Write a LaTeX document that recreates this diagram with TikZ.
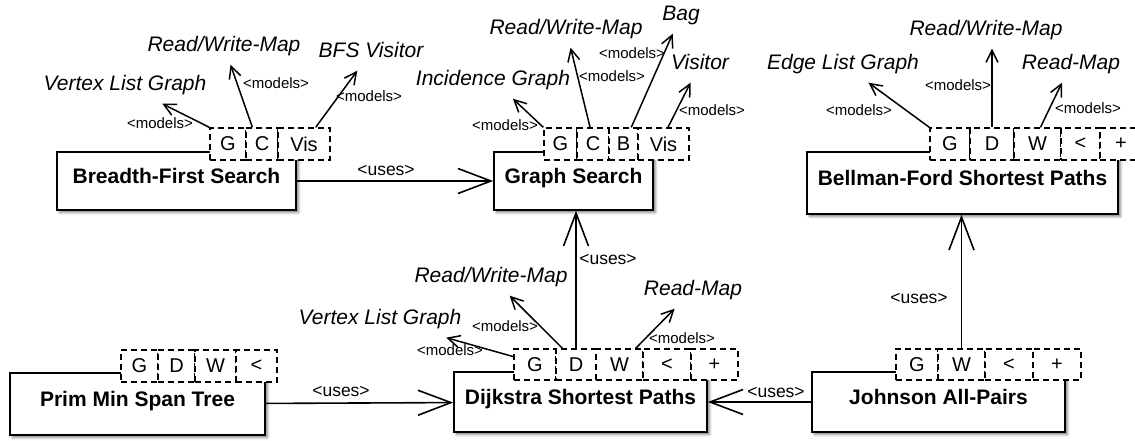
\documentclass[tikz,border=0pt]{standalone}
\usepackage{fontspec}
\setmainfont{Liberation Sans}
\usetikzlibrary{positioning,arrows.meta,shadows.blur}

\begin{document}
\begin{tikzpicture}[x=1pt,y=-1pt,
    algo/.style={draw, line width=1.6pt, fill=white, inner sep=0pt,
      text height=15pt, text depth=10pt,
      font=\fontsize{21}{25}\selectfont\bfseries,
      blur shadow={shadow xshift=2.5pt, shadow yshift=-2.5pt, shadow blur radius=2.5pt, shadow opacity=50}},
    param/.style={draw, line width=1.3pt, dash pattern=on 6pt off 4pt, fill=white,
      inner sep=0pt, minimum height=32pt, font=\fontsize{20}{24}\selectfont},
    concept/.style={inner xsep=4pt, inner ysep=9pt, text height=15pt, text depth=4pt,
      font=\fontsize{21}{25}\selectfont\itshape},
    models/.style={line width=1.5pt, -{Straight Barb[length=12pt,width=12pt]}},
    uses/.style={line width=1.6pt, -{Straight Barb[length=33pt,width=25pt]}},
    modlabel/.style={inner sep=0pt, font=\fontsize{15}{17}\selectfont},
    uselabel/.style={inner sep=0pt, font=\fontsize{17.5}{20}\selectfont}]
\clip (0,0) rectangle (1135,441);

% algorithms
\node[algo, minimum width=239pt, minimum height=58pt] (bfs)  at (176.5,181) {Breadth-First Search};
\node[algo, minimum width=159pt, minimum height=58pt] (gs)   at (573.5,181) {Graph Search};
\node[algo, minimum width=311pt, minimum height=62pt] (bf)   at (962.5,183) {Bellman-Ford Shortest Paths};
\node[algo, minimum width=255pt, minimum height=62pt] (prim) at (137.5,404) {Prim Min Span Tree};
\node[algo, minimum width=253pt, minimum height=60pt] (dij)  at (580.5,402) {Dijkstra Shortest Paths};
\node[algo, minimum width=253pt, minimum height=60pt] (john) at (938.5,402) {Johnson All-Pairs};

% template parameters
\node[param, minimum width=36pt] (bfsG)   at (228,144) {G};
\node[param, minimum width=32pt] (bfsC)   at (262,144) {C};
\node[param, minimum width=52pt] (bfsVis) at (304,144) {Vis};

\node[param, minimum width=33pt] (gsG)   at (560.5,144) {G};
\node[param, minimum width=32pt] (gsC)   at (593,144) {C};
\node[param, minimum width=29pt] (gsB)   at (623.5,144) {B};
\node[param, minimum width=51pt] (gsVis) at (663.5,144) {Vis};

\node[param, minimum width=40pt] (bfG)    at (950,144) {G};
\node[param, minimum width=44pt] (bfD)    at (992,144) {D};
\node[param, minimum width=47pt] (bfW)    at (1037.5,144) {W};
\node[param, minimum width=39pt] (bfLess) at (1080.5,144) {<};
\node[param, minimum width=42pt] (bfPlus) at (1121,144) {+};

\node[param, minimum width=37pt] (primG)    at (139.5,366) {G};
\node[param, minimum width=37pt] (primD)    at (176.5,366) {D};
\node[param, minimum width=41pt] (primW)    at (215.5,366) {W};
\node[param, minimum width=41pt] (primLess) at (256.5,366) {<};

\node[param, minimum width=42pt, minimum height=31pt] (dijG)    at (535,364.5) {G};
\node[param, minimum width=40pt, minimum height=31pt] (dijD)    at (576,364.5) {D};
\node[param, minimum width=47pt, minimum height=31pt] (dijW)    at (619.5,364.5) {W};
\node[param, minimum width=48pt, minimum height=31pt] (dijLess) at (667,364.5) {<};
\node[param, minimum width=47pt, minimum height=31pt] (dijPlus) at (714.5,364.5) {+};

\node[param, minimum width=42pt, minimum height=31pt] (johnG)    at (917,364.5) {G};
\node[param, minimum width=47pt, minimum height=31pt] (johnW)    at (961.5,364.5) {W};
\node[param, minimum width=48pt, minimum height=31pt] (johnLess) at (1009,364.5) {<};
\node[param, minimum width=48pt, minimum height=31pt] (johnPlus) at (1057,364.5) {+};

% concepts
\node[concept] (bfsVLG)     at (125,85)  {Vertex List Graph};
\node[concept] (bfsRW)      at (224,46)  {Read/Write-Map};
\node[concept] (bfsVisitor) at (371,52)  {BFS Visitor};

\node[concept] (gsIG)      at (493,80) {Incidence Graph};
\node[concept] (gsRW)      at (566,29) {Read/Write-Map};
\node[concept] (gsBag)     at (681,15) {Bag};
\node[concept] (gsVisitor) at (700,64) {Visitor};

\node[concept] (bfELG) at (843,64)  {Edge List Graph};
\node[concept] (bfRW)  at (986,30)  {Read/Write-Map};
\node[concept] (bfRM)  at (1071,64) {Read-Map};

\node[concept] (dijVLG) at (380,319) {Vertex List Graph};
\node[concept] (dijRW)  at (491,277) {Read/Write-Map};
\node[concept] (dijRM)  at (693,290) {Read-Map};

% models
\draw[models] (bfsG.north west) -- (bfsVLG);
\draw[models] (bfsC.120) -- (bfsRW);
\draw[models] (bfsVis.55) -- (bfsVisitor);
\node[modlabel] (bfsM1) at (160,123) {<models>};
\node[modlabel] (bfsM2) at (276,83)  {<models>};
\node[modlabel] (bfsM3) at (369,96)  {<models>};

\draw[models] (gsG.north west) -- (gsIG);
\draw[models] (gsC.100) -- (gsRW);
\draw[models] (gsB.65) -- (gsBag);
\draw[models] (gsVis.75) -- (gsVisitor);
\node[modlabel] (gsM1) at (505,125) {<models>};
\node[modlabel] (gsM2) at (612,76)  {<models>};
\node[modlabel] (gsM3) at (632,53)  {<models>};
\node[modlabel] (gsM4) at (712,110) {<models>};

\draw[models] (bfG.north west) -- (bfELG);
\draw[models] (bfD.north) -- (bfD.north |- bfRW.south);
\draw[models] (bfW.80) -- (bfRM);
\node[modlabel] (bfM1) at (859,110)  {<models>};
\node[modlabel] (bfM2) at (958,85)   {<models>};
\node[modlabel] (bfM3) at (1088,108) {<models>};

\draw[models] (dijG.160) -- (dijVLG);
\draw[models] (dijD.130) -- (dijRW);
\draw[models] (dijW.45) -- (dijRM);
\node[modlabel] (dijM1) at (450,350) {<models>};
\node[modlabel] (dijM2) at (505,326) {<models>};
\node[modlabel] (dijM3) at (682,338) {<models>};

% uses
\draw[uses] (bfs) -- (gs);
\draw[uses] (prim) -- (dij);
\draw[uses] (john) -- (dij);
\draw[uses] (dijD.north) -- (dijD.north |- gs.south);
\draw[uses] (johnW.north) -- (johnW.north |- bf.south);
\node[uselabel] (bfsUses)  at (386,170) {<uses>};
\node[uselabel] (primUses) at (341,391) {<uses>};
\node[uselabel] (johnUses) at (776,392) {<uses>};
\node[uselabel] (dijUses)  at (608,259) {<uses>};
\node[uselabel] (jbfUses)  at (919,298) {<uses>};
\end{tikzpicture}
\end{document}
